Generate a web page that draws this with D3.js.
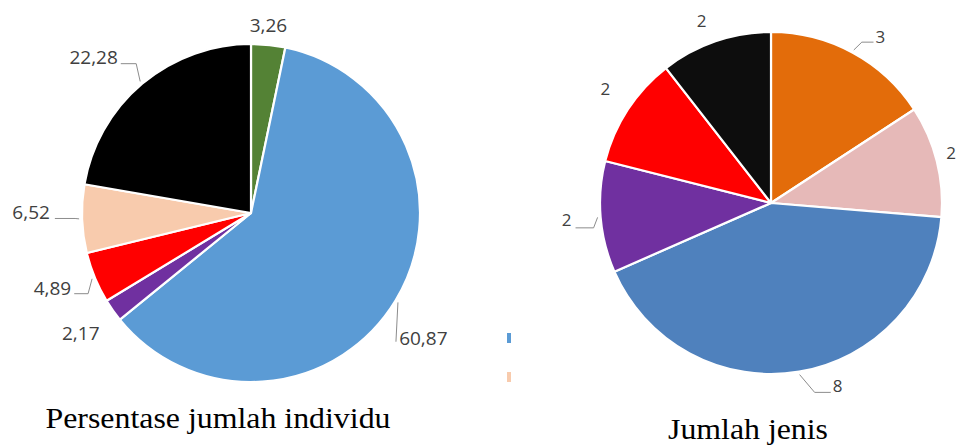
<!DOCTYPE html>
<html><head><meta charset="utf-8">
<script src="https://cdn.jsdelivr.net/npm/d3@7/dist/d3.min.js"></script>
<style>html,body{margin:0;padding:0;background:#fff;overflow:hidden}</style>
</head><body><svg id="c" width="956" height="446"></svg>
<script>
// ---- data ----
const leftCategories = ["K1","K2","K3","K4","K5","K6"];
const leftValues = [3.26, 60.87, 2.17, 4.89, 6.52, 22.28];
const leftLabels = ["3,26","60,87","2,17","4,89","6,52","22,28"];
const leftColors = ["#548235","#5b9bd5","#7030a0","#ff0000","#f8cbad","#000000"];
const leftTitle = "Persentase jumlah individu";

const rightCategories = ["J1","J2","J3","J4","J5","J6"];
const rightValues = [3, 2, 8, 2, 2, 2];
const rightLabels = ["3","2","8","2","2","2"];
const rightColors = ["#e36c0a","#e6b9b8","#4f81bd","#7030a0","#ff0000","#0d0d0d"];
const rightTitle = "Jumlah jenis";

const legendColors = ["#5b9bd5","#f8cbad"];

// ---- layout (label nudges relative to arc point at radius r+21) ----
const leftNudge = [[-2,1],[10,26],[-15,11],[-23,2],[-30,-7],[-35,-11]];
// leader: [elbowDx from edge point, line y offset from label centre, tail gap] or null
const leftLeader = [null,[-2,4,null],null,[-4,6,3],[-4,6,5],[-4,7,3]];
const rightNudge = [[18,3],[-6,-3],[35,-7],[-13,1],[-5,-9],[-7,-1]];
const rightLeader = [[8,5,2],null,[15,7,2],[-4,8,4],null,null];

const svg = d3.select("#c");

function drawPie(cfg){
  const g = svg.append("g").attr("transform",`translate(${cfg.cx},${cfg.cy})`);
  const pie = d3.pie().sort(null).value(d=>d.v).startAngle(0).endAngle(2*Math.PI);
  const data = cfg.values.map((v,i)=>({v, c:cfg.colors[i], l:cfg.labels[i], k:cfg.cats[i]}));
  const arcs = pie(data);
  const arc = d3.arc().innerRadius(0).outerRadius(cfg.r);
  g.selectAll("path.s").data(arcs).join("path").attr("class","s")
    .attr("d",arc).attr("fill",d=>d.data.c)
    .attr("stroke","#fff").attr("stroke-width",2.2).attr("stroke-linejoin","round");
  const lab = d3.arc().innerRadius(cfg.r+21).outerRadius(cfg.r+21);
  const edge = d3.arc().innerRadius(cfg.r+3).outerRadius(cfg.r+3);
  arcs.forEach((a,i)=>{
    const p = lab.centroid(a);
    const x = p[0]+cfg.nudge[i][0], y = p[1]+cfg.nudge[i][1];
    const t = g.append("text").attr("x",x).attr("y",y).attr("dy","0.36em")
      .attr("text-anchor","middle").attr("font-family","'Open Sans', 'Noto Sans', sans-serif")
      .attr("font-size",cfg.fs).attr("fill","#404040").text(a.data.l);
    const L = cfg.leader[i];
    if(L){
      const w = t.node().getComputedTextLength();
      const e = edge.centroid(a);
      const ly = y + L[1];
      const pts = [e,[e[0]+L[0], ly]];
      if(L[2]!==null){
        const tx = e[0] < 0 ? x + w/2 + L[2] : x - w/2 - L[2];
        pts.push([tx, ly]);
      }
      g.append("path").attr("d",d3.line()(pts)).attr("fill","none")
        .attr("stroke","#8c8c8c").attr("stroke-width",1);
    }
  });
  svg.append("text").attr("x",cfg.tx).attr("y",cfg.ty).attr("text-anchor","middle")
    .attr("font-family","'Liberation Serif','Times New Roman',serif").attr("font-size",29)
    .attr("textLength",cfg.tw).attr("lengthAdjust","spacingAndGlyphs")
    .attr("fill","#000").text(cfg.title);
}

drawPie({cx:251,cy:213,r:169,values:leftValues,colors:leftColors,labels:leftLabels,cats:leftCategories,
  nudge:leftNudge,leader:leftLeader,fs:19,title:leftTitle,tx:218,ty:428,tw:345});
drawPie({cx:771,cy:203,r:171,values:rightValues,colors:rightColors,labels:rightLabels,cats:rightCategories,
  nudge:rightNudge,leader:rightLeader,fs:17,title:rightTitle,tx:748,ty:439,tw:160});

// small legend swatches (cropped legend, no visible text)
svg.selectAll("rect.lg").data(legendColors).join("rect").attr("class","lg")
  .attr("x",507).attr("y",(d,i)=>333+i*39).attr("width",4).attr("height",10).attr("fill",d=>d);
</script></body></html>
